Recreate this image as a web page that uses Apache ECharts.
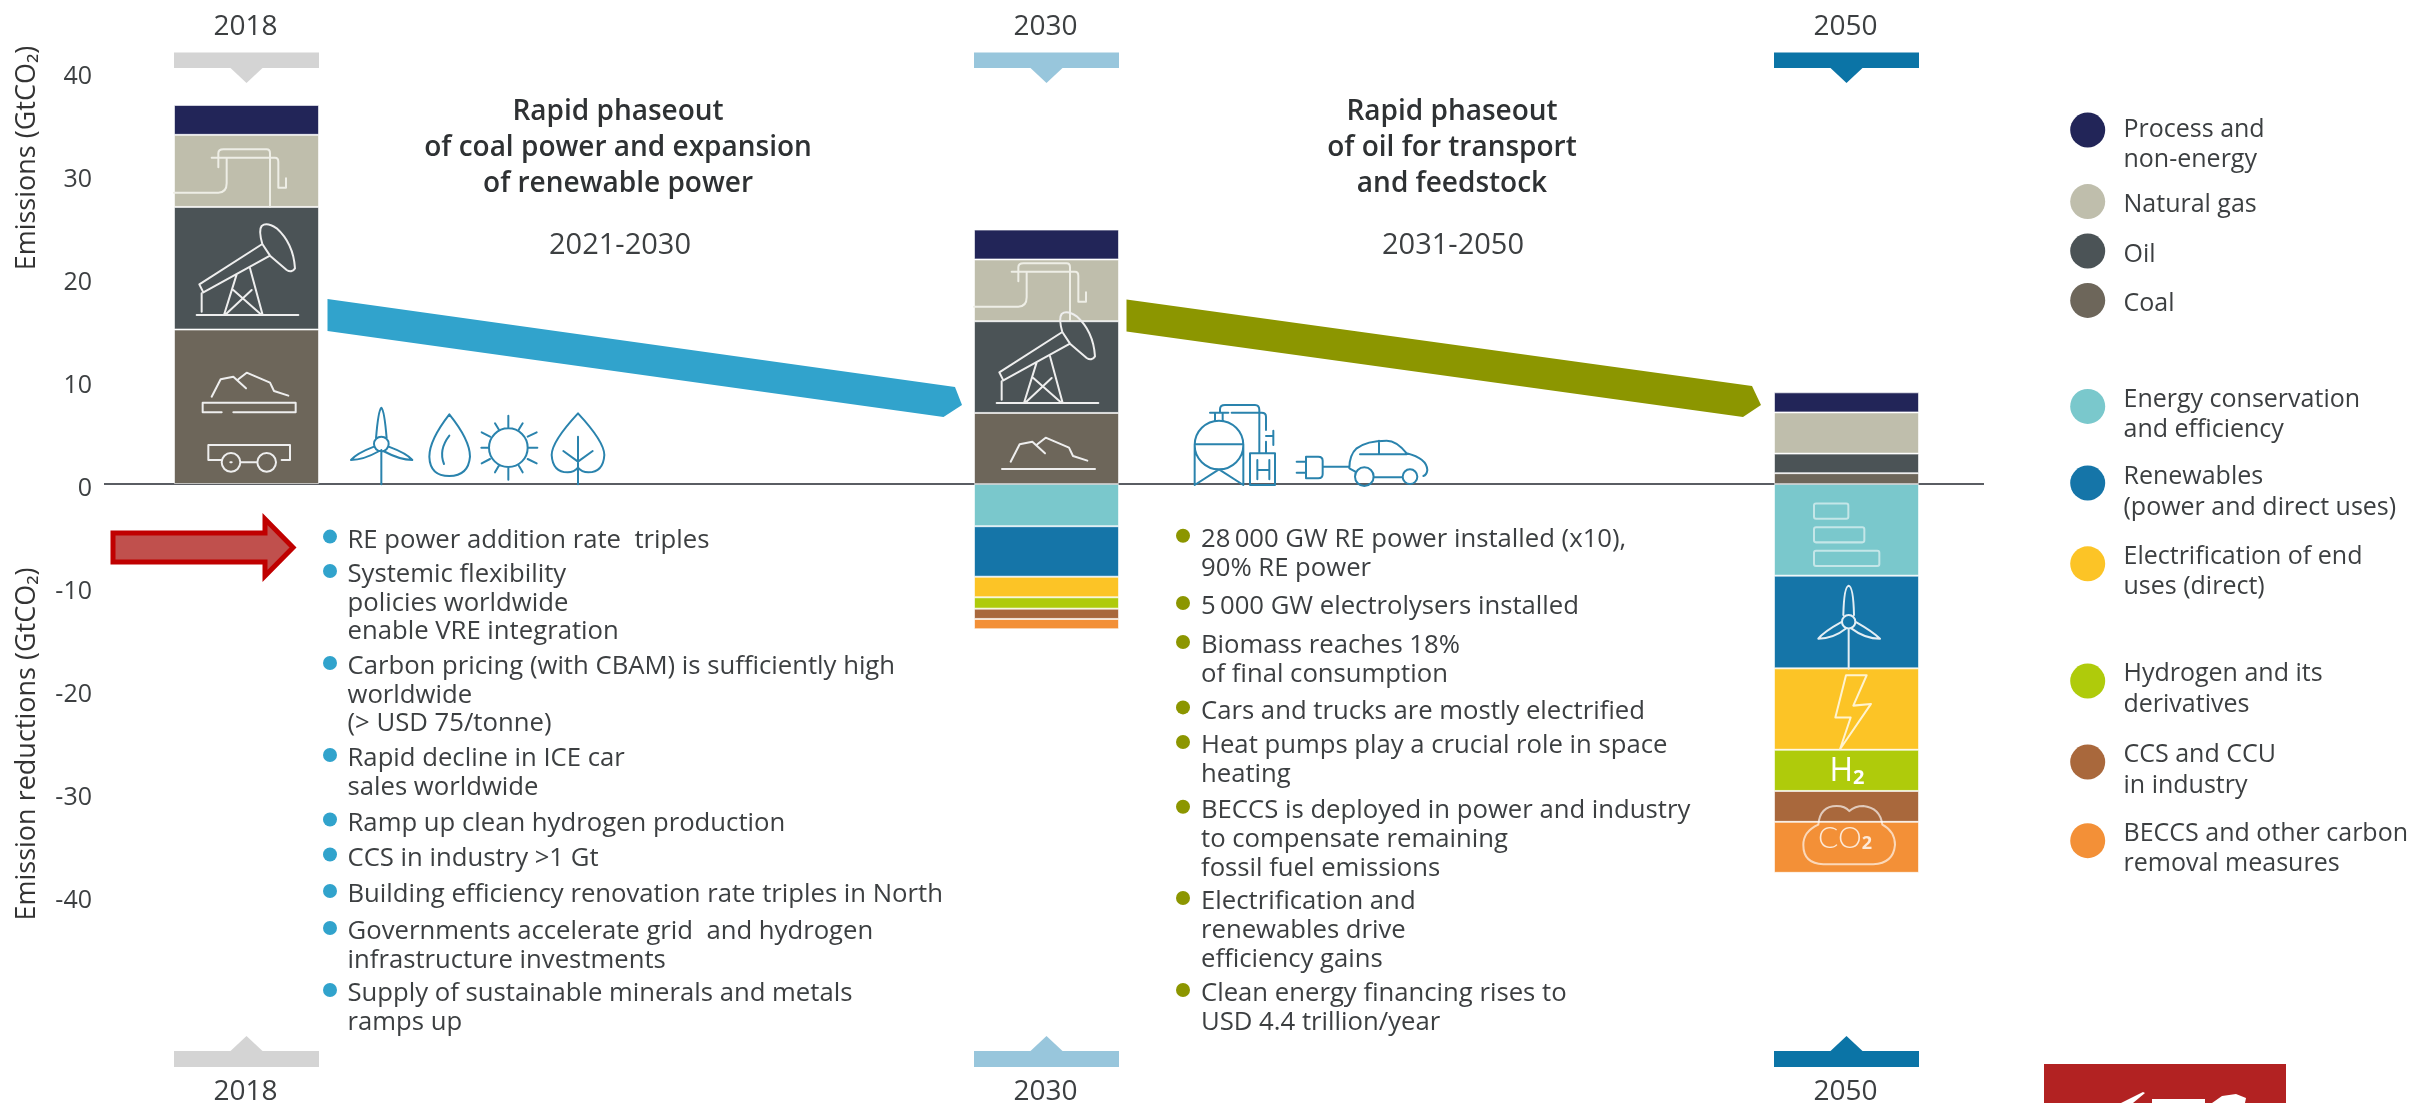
<!DOCTYPE html>
<html>
<head>
<meta charset="utf-8">
<title>Emissions</title>
<style>
    html, body { margin: 0; padding: 0; background: #fff; }
    #chart { width: 2430px; height: 1103px; }
</style>
<script src="https://cdn.jsdelivr.net/npm/echarts@6/dist/echarts.min.js"></script>
</head>
<body>
<div id="chart"></div>
<script>
    // chart values (GtCO2)
    const years = ['2018', '2030', '2050']
    const processNonEnergy = [2.9, 2.9, 1.95]
    const naturalGas = [7.0, 6.0, 4.0]
    const oil = [11.9, 8.9, 1.9]
    const coal = [15.0, 6.9, 1.05]
    const efficiency = [null, -4.1, -8.9]
    const renewables = [null, -4.9, -9.0]
    const electrification = [null, -2.0, -7.9]
    const hydrogen = [null, -1.1, -4.0]
    const ccs = [null, -1.0, -3.0]
    const beccs = [null, -1.0, -4.95]
    const yTicks = [-40, 40, 10]

    const seriesNames = ['Coal', 'Oil', 'Natural gas', 'Process and non-energy',
        'Energy conservation and efficiency', 'Renewables (power and direct uses)', 'Electrification of end uses (direct)',
        'Hydrogen and its derivatives', 'CCS and CCU in industry', 'BECCS and other carbon removal measures']
    const seriesValues = [coal, oil, naturalGas, processNonEnergy,
        efficiency, renewables, electrification, hydrogen, ccs, beccs]
    const seriesColors = ['#6d665a', '#4b5356', '#bfbeac', '#222558',
        '#7ac8cc', '#1575a8', '#fcc426', '#afcb0b', '#a9683c', '#f39037']

    const legendLines = [
        ['Process and', 'non-energy'], ['Natural gas'], ['Oil'], ['Coal'],
        ['Energy conservation', 'and efficiency'], ['Renewables', '(power and direct uses)'], ['Electrification of end', 'uses (direct)'],
        ['Hydrogen and its', 'derivatives'], ['CCS and CCU', 'in industry'], ['BECCS and other carbon', 'removal measures']
    ]
    const legendColors = ['#222558', '#bfbeac', '#4b5356', '#6d665a', '#7ac8cc', '#1575a8', '#fcc426', '#afcb0b', '#a9683c', '#f39037']
    const legendY = [126.5, 202, 251.5, 301, 396.8, 474, 553.5, 671, 752, 830.7]
    const legendDotY = [130, 201.6, 251, 300.4, 406.4, 483, 563.8, 681, 762, 840.7]

    const leftBullets = [
        ['RE power addition rate  triples'],
        ['Systemic flexibility', 'policies worldwide', 'enable VRE integration'],
        ['Carbon pricing (with CBAM) is sufficiently high', 'worldwide', '(> USD 75/tonne)'],
        ['Rapid decline in ICE car', 'sales worldwide'],
        ['Ramp up clean hydrogen production'],
        ['CCS in industry >1 Gt'],
        ['Building efficiency renovation rate triples in North'],
        ['Governments accelerate grid  and hydrogen', 'infrastructure investments'],
        ['Supply of sustainable minerals and metals', 'ramps up']
    ]
    const leftBulletY = [537.6, 572, 664, 756, 820.5, 855.5, 892, 929, 991]
    const rightBullets = [
        ['28\u2009000 GW RE power installed (x10),', '90% RE power'],
        ['5\u2009000 GW electrolysers installed'],
        ['Biomass reaches 18%', 'of final consumption'],
        ['Cars and trucks are mostly electrified'],
        ['Heat pumps play a crucial role in space', 'heating'],
        ['BECCS is deployed in power and industry', 'to compensate remaining', 'fossil fuel emissions'],
        ['Electrification and', 'renewables drive', 'efficiency gains'],
        ['Clean energy financing rises to', 'USD 4.4 trillion/year']
    ]
    const rightBulletY = [536.8, 604, 643, 708.4, 743, 807.8, 899, 991]

    const flagColors = ['#d4d4d4', '#98c6dc', '#0b74a6']

    const FONT = '"Open Sans", sans-serif'
    const TEXT = '#3c3f41'
    const BODY_SIZE = 25.7
    const TEXT_DY = 3   // the font sits a little high in its box

    // line icons, drawn in the coordinates of a 3x crop: [path, originX, originY, colour, lineWidth, scaleY]
    const pipe = 'M72 308 L205 308 Q230 308 230 280 L230 205 M185 203 L375 203 Q385 203 385 215 L385 293 L408 293 L408 265 M205 232 L205 190 Q205 178 220 178 L350 178 Q360 178 360 190 L360 350'
    const pump = 'M148 583 L337 462 L360 497 L160 607 Z M337 462 Q325 420 335 408 Q350 395 380 415 Q430 460 435 535 Q425 550 410 540 L360 497 M155 610 L155 665 M140 675 L445 675 M260 553 L222 675 M300 535 L338 675 M250 600 L335 675 M305 600 L225 675'
    const heap = 'M185 920 L212 868 L250 860 L288 895 M265 868 L290 848 L360 878 L372 903 L415 917'
    const tray = 'M215 967 L158 967 L158 938 L437 938 L437 967 L250 967'
    const wagon = 'M215 1110 L175 1110 L175 1065 L420 1065 L420 1110 L395 1110 M271 1117 L322 1117 M215 1117 A28 28 0 1 0 271 1117 A28 28 0 1 0 215 1117 M322 1117 A28 28 0 1 0 378 1117 A28 28 0 1 0 322 1117 M241 1117 L245 1117'
    const bars2050 = 'M228 395 L319 395 Q325 395 325 401 L325 434 Q325 440 319 440 L228 440 Q222 440 222 434 L222 401 Q222 395 228 395 Z M228 465 L367 465 Q373 465 373 471 L373 504 Q373 510 367 510 L228 510 Q222 510 222 504 L222 471 Q222 465 228 465 Z M228 535 L412 535 Q418 535 418 541 L418 574 Q418 580 412 580 L228 580 Q222 580 222 574 L222 541 Q222 535 228 535 Z'
    const turbine2050 = 'M326 765 L326 884 M306 745 A20 20 0 1 0 346 745 A20 20 0 1 0 306 745 M310 725 Q312 640 326 638 Q340 640 342 725 M305 745 Q250 775 235 795 Q280 795 318 765 M347 745 Q400 775 420 795 Q375 795 335 765'
    const bolt = 'M318 903 L380 903 L340 993 L393 988 L300 1122 L332 1028 L286 1028 Z'
    const cloud = 'M235 1345 Q240 1290 290 1290 Q315 1290 328 1305 Q345 1290 370 1290 Q420 1295 427 1345 Q465 1365 465 1405 Q460 1460 400 1462 L250 1462 Q190 1460 190 1405 Q190 1365 235 1345 Z'
    const renewablesRow = 'M124 165 L124 268 M102 147 A22 22 0 1 0 146 147 A22 22 0 1 0 102 147 M108 130 Q115 45 124 38 Q133 45 140 130 M102 155 Q50 175 33 195 Q70 195 118 168 M146 155 Q200 175 217 195 Q180 195 130 168 '
        + 'M328 58 Q390 135 390 185 Q385 243 328 243 Q270 243 268 185 Q268 135 328 58 Z M328 122 Q295 165 312 207 '
        + 'M447 158 A58 58 0 1 0 563 158 A58 58 0 1 0 447 158 M505 62 L505 98 M505 218 L505 254 M424 158 L445 158 M565 158 L592 158 M465 85 L476 103 M548 85 L537 103 M425 112 L450 125 M590 112 L563 125 M425 205 L450 192 M590 205 L563 192 M465 232 L476 213 M548 232 L537 213 '
        + 'M714 55 Q793 140 793 180 Q790 232 745 232 Q725 232 714 218 Q703 232 683 232 Q638 232 635 180 Q635 140 714 55 Z M714 125 L714 268 M670 168 L714 200 L758 168'
    const hydrogenCar = 'M74 135 A73 73 0 1 0 220 135 A73 73 0 1 0 74 135 M74 133 L220 133 M74 133 L74 255 M220 133 L220 255 M74 255 L147 208 L220 255 M135 62 L135 38 M158 62 L158 38 M120 38 L175 38 M185 38 L275 38 Q288 38 288 50 L288 90 M150 38 L150 28 Q150 15 165 15 L255 15 Q268 15 268 30 L268 160 M288 108 L310 108 M310 92 L310 135 M288 125 L288 160 M240 160 L315 160 L315 255 L240 255 Z M262 180 L262 238 M298 180 L298 238 M262 210 L298 210 '
        + 'M408 170 L445 170 Q458 170 458 182 L458 222 Q458 235 445 235 L408 235 Z M380 185 L408 185 M380 218 L408 218 M458 200 L535 200 '
        + 'M538 205 Q538 165 560 145 Q590 122 650 122 Q680 122 710 160 Q770 175 772 210 Q770 225 760 228 M570 163 L710 163 M627 122 L627 163 M610 232 L698 232 M538 205 L556 215 M555 230 A28 28 0 1 0 611 230 A28 28 0 1 0 555 230 M698 230 A22 22 0 1 0 742 230 A22 22 0 1 0 698 230'

    const icons = [
        [pipe, 150, 90, '#eeeee6', 6, 1 / 3], [pump, 150, 90, '#eeeeee', 6, 1 / 3], [heap, 150, 90, '#eeeeee', 6, 1 / 3], [tray, 150, 90, '#eeeeee', 6, 1 / 3], [wagon, 150, 90, '#eeeeee', 6, 1 / 3],
        [pipe, 950, 204, '#eeeee6', 6, 1 / 3], [pump, 950, 178, '#eeeeee', 6, 1 / 3], [heap, 949, 155, '#eeeeee', 6, 1 / 3], ['M159 942 L438 942', 949, 155, '#eeeeee', 6, 1 / 3],
        [bars2050, 1740, 370, '#c4e6e8', 6, 0.338], [turbine2050, 1740, 370, '#e4eef4', 6, 0.338], [bolt, 1740, 370, '#fff3cf', 6, 0.338], [cloud, 1740, 370, 'rgba(255,255,255,0.65)', 6, 0.338],
        [renewablesRow, 340, 395, '#2a83ad', 6, 1 / 3], [hydrogenCar, 1170, 400, '#2a83ad', 6, 1 / 3]
    ]

    function textEl(text, x, y, size, opt) {
        return {
            type: 'text', x: x, y: y, z: 20,
            style: Object.assign({
                text: text, fontSize: size, fontFamily: FONT, fill: TEXT,
                align: 'left', verticalAlign: 'middle'
            }, opt || {})
        }
    }

    function bulletEls(list, tops, lineHeight, dotX, textX, color) {
        let els = []
        list.forEach((lines, i) => {
            els.push({type: 'circle', z: 20, shape: {cx: dotX, cy: tops[i] - 1, r: 7}, style: {fill: color}})
            lines.forEach((line, j) => {
                els.push(textEl(line, textX, tops[i] + TEXT_DY + j * lineHeight, BODY_SIZE))
            })
        })
        return els
    }

    let elements = []

    // side titles
    elements.push({type: 'text', x: 27, y: 158, rotation: Math.PI / 2, z: 20,
        style: {text: 'Emissions (GtCO₂)', fontSize: 27, fontFamily: FONT, fontWeight: 500, fill: '#333', align: 'center', verticalAlign: 'middle'}})
    elements.push({type: 'text', x: 27, y: 744, rotation: Math.PI / 2, z: 20,
        style: {text: 'Emission reductions (GtCO₂)', fontSize: 27, fontFamily: FONT, fontWeight: 500, fill: '#333', align: 'center', verticalAlign: 'middle'}})

    // headings over the two phases
    const headingA = ['Rapid phaseout', 'of coal power and expansion', 'of renewable power']
    const headingB = ['Rapid phaseout', 'of oil for transport', 'and feedstock']
    headingA.forEach((t, i) => elements.push(textEl(t, 618, 112 + i * 36, 28, {align: 'center', fontWeight: 600, fill: '#2e3133'})))
    headingB.forEach((t, i) => elements.push(textEl(t, 1452, 112 + i * 36, 28, {align: 'center', fontWeight: 600, fill: '#2e3133'})))
    elements.push(textEl('2021-2030', 620, 246, 29, {align: 'center'}))
    elements.push(textEl('2031-2050', 1453, 246, 29, {align: 'center'}))

    // the two phase arrows and the red pointer
    elements.push({type: 'polygon', z: 1, shape: {points: [[327.5, 299], [955, 387], [962, 405], [943.5, 417], [327.5, 331]]}, style: {fill: '#31a3cc'}})
    elements.push({type: 'polygon', z: 1, shape: {points: [[1126.5, 299.5], [1752, 386], [1761, 405], [1743, 417], [1126.5, 331.5]]}, style: {fill: '#8c9600'}})
    elements.push({type: 'polygon', z: 5, shape: {points: [[113, 533], [265, 533], [265, 519], [293, 547.5], [265, 576], [265, 562], [113, 562]]},
        style: {fill: '#c0504d', stroke: '#c00000', lineWidth: 5}})

    elements = elements.concat(bulletEls(leftBullets, leftBulletY, 28.4, 330, 347.5, '#31a3cc'))
    elements = elements.concat(bulletEls(rightBullets, rightBulletY, 28.8, 1183, 1201, '#8c9600'))

    // legend
    legendLines.forEach((lines, i) => {
        elements.push({type: 'circle', z: 20, shape: {cx: 2087.7, cy: legendDotY[i], r: 17.5}, style: {fill: legendColors[i]}})
        lines.forEach((line, j) => elements.push(textEl(line, 2123.5, legendY[i] + TEXT_DY + j * 30.5, 25)))
    })

    // labels sitting on the 2050 bar
    elements.push({type: 'text', x: 1847, y: 772, z: 20, style: {
        text: '{a|H}{b|2}', align: 'center', verticalAlign: 'middle',
        rich: {a: {fontSize: 32, fontFamily: FONT, fill: '#fff'}, b: {fontSize: 20, fontFamily: FONT, fontWeight: 700, fill: '#fff', verticalAlign: 'bottom'}}
    }})
    elements.push({type: 'text', x: 1845, y: 838, z: 20, style: {
        text: '{a|CO}{b|2}', align: 'center', verticalAlign: 'middle',
        rich: {a: {fontSize: 30, fontFamily: '"Lato", sans-serif', fontWeight: 300, fill: 'rgba(255,255,255,0.8)'}, b: {fontSize: 18, fontFamily: FONT, fontWeight: 700, fill: 'rgba(255,255,255,0.8)', verticalAlign: 'bottom'}}
    }})

    // cropped logo in the corner
    elements.push({type: 'rect', z: 1, shape: {x: 2044, y: 1064, width: 242, height: 39}, style: {fill: '#b22222'}})
    elements.push({type: 'polygon', z: 2, shape: {points: [[2121, 1103], [2143, 1092], [2145, 1093], [2133, 1103]]}, style: {fill: '#fff'}})
    elements.push({type: 'rect', z: 2, shape: {x: 2152, y: 1099, width: 53, height: 4}, style: {fill: '#fff'}})
    elements.push({type: 'polygon', z: 2, shape: {points: [[2212, 1103], [2222, 1096], [2236, 1094], [2246, 1098], [2245, 1103]]}, style: {fill: '#fff'}})

    const chart = echarts.init(document.getElementById('chart'), null, {renderer: 'canvas'})

    let series = seriesValues.map((values, i) => ({
        name: seriesNames[i],
        type: 'bar',
        stack: 'total',
        barWidth: 145,
        silent: true,
        z: 3,
        itemStyle: {color: seriesColors[i], borderColor: 'rgba(255,255,255,0.6)', borderWidth: 1},
        data: values
    }))

    // the zero line runs from just right of the tick labels to 1984, shorter than the category bands
    series.push({
        type: 'custom',
        silent: true,
        z: 1,
        data: [[0, 0]],
        renderItem: function (params, api) {
            let y = api.coord([0, 0])[1]
            return {type: 'line', shape: {x1: 104, y1: y, x2: 1984, y2: y}, style: {stroke: '#5a5d63', lineWidth: 2}}
        }
    })

    // year flags above and below each column
    series.push({
        type: 'custom',
        silent: true,
        z: 4,
        data: years.map((y, i) => [i, 0]),
        renderItem: function (params, api) {
            let i = params.dataIndex
            let x = api.coord([i, 0])[0]
            let c = flagColors[i]
            return {type: 'group', children: [
                {type: 'rect', shape: {x: x - 72.5, y: 52.5, width: 145, height: 15.5}, style: {fill: c}},
                {type: 'polygon', shape: {points: [[x - 16, 68], [x + 16, 68], [x, 83]]}, style: {fill: c}},
                {type: 'rect', shape: {x: x - 72.5, y: 1051, width: 145, height: 16}, style: {fill: c}},
                {type: 'polygon', shape: {points: [[x - 16, 1051], [x + 16, 1051], [x, 1036]]}, style: {fill: c}},
                {type: 'text', x: x - 1, y: 27, style: {text: years[i], fontSize: 28, fontFamily: FONT, fill: TEXT, align: 'center', verticalAlign: 'middle'}},
                {type: 'text', x: x - 1, y: 1092, style: {text: years[i], fontSize: 28, fontFamily: FONT, fill: TEXT, align: 'center', verticalAlign: 'middle'}}
            ]}
        }
    })

    // white and blue line icons
    series.push({
        type: 'custom',
        coordinateSystem: 'none',
        silent: true,
        z: 5,
        data: icons.map((d, i) => [i]),
        renderItem: function (params) {
            let d = icons[params.dataIndex]
            return {
                type: 'path', x: d[1], y: d[2], scaleX: 1 / 3, scaleY: d[5],
                shape: {pathData: d[0]},
                style: {fill: 'none', stroke: d[3], lineWidth: d[4], lineJoin: 'round', lineCap: 'round'}
            }
        }
    })

    chart.setOption({
        animation: false,
        backgroundColor: '#fff',
        // bands are 800 wide so the three columns land where they are in the picture
        grid: {left: -153.5, width: 2400, top: 72, height: 824, outerBoundsMode: 'none'},
        xAxis: {
            type: 'category',
            data: years,
            axisTick: {show: false},
            axisLabel: {show: false},
            axisLine: {show: false}
        },
        yAxis: {
            type: 'value',
            min: yTicks[0],
            max: yTicks[1],
            interval: yTicks[2],
            offset: -257.5,
            splitLine: {show: false},
            axisTick: {show: false},
            axisLine: {show: false},
            axisLabel: {fontSize: 25, fontFamily: FONT, color: TEXT, margin: 12, verticalAlign: 'top', lineHeight: 10}
        },
        series: series,
        graphic: {elements: elements}
    })
</script>
</body>
</html>
